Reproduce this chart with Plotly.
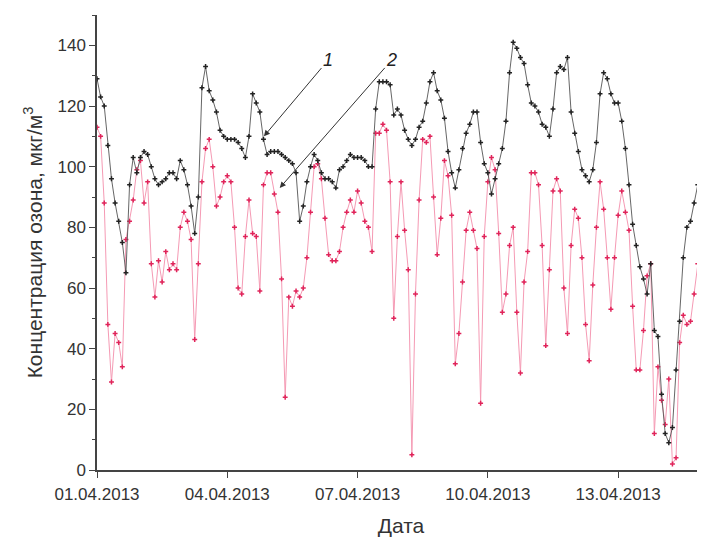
import plotly.graph_objects as go
import pandas as pd

# time axis: every 2 hours from 01.04.2013 00:00
times = pd.date_range("2013-04-01 00:00", periods=169, freq="2h")

# series 1 (black)
series1 = [
    129, 123, 120, 107, 96, 88, 82, 75, 65, 94, 103, 98,
    103, 105, 104, 100, 96, 94, 95, 96, 98, 98, 96, 102,
    99, 94, 87, 78, 90, 126, 133, 125, 122, 118, 112, 110,
    109, 109, 109, 108, 106, 103, 110, 124, 121, 118, 109, 104,
    105, 105, 105, 104, 103, 102, 101, 98, 82, 87, 95, 100,
    104, 102, 98, 96, 96, 95, 93, 99, 100, 102, 104, 103,
    103, 103, 102, 100, 100, 119, 128, 128, 128, 127, 117, 119,
    117, 112, 109, 107, 109, 113, 115, 121, 128, 131, 125, 122,
    116, 105, 98, 93, 99, 106, 111, 114, 118, 118, 108, 101,
    98, 91, 96, 101, 106, 115, 131, 141, 139, 136, 134, 127,
    121, 120, 118, 114, 113, 110, 119, 131, 133, 132, 136, 118,
    111, 105, 99, 97, 95, 99, 108, 124, 131, 129, 124, 121,
    121, 115, 106, 94, 81, 74, 67, 63, 58, 68, 46, 44,
    25, 12, 9, 14, 33, 49, 70, 80, 82, 88, 94, 90,
    86,
]

# series 2 (pink)
series2 = [
    113, 110, 88, 48, 29, 45, 42, 34, 76, 82, 89, 99,
    102, 88, 95, 68, 57, 69, 62, 72, 66, 68, 66, 80,
    85, 82, 76, 43, 68, 95, 106, 109, 100, 87, 90, 95,
    97, 95, 80, 60, 58, 77, 89, 78, 77, 59, 94, 98,
    98, 91, 85, 63, 24, 57, 54, 59, 57, 60, 70, 85,
    100, 101, 96, 83, 71, 69, 69, 72, 80, 85, 89, 85,
    92, 88, 82, 80, 72, 111, 111, 114, 112, 95, 50, 77,
    95, 79, 66, 5, 58, 89, 109, 108, 110, 90, 71, 83,
    102, 97, 84, 35, 45, 62, 79, 85, 79, 73, 22, 77,
    95, 103, 99, 78, 52, 58, 74, 80, 52, 32, 62, 72,
    98, 98, 94, 74, 41, 66, 92, 96, 92, 60, 45, 74,
    86, 83, 70, 48, 36, 61, 80, 95, 86, 70, 53, 70,
    84, 92, 85, 79, 54, 33, 33, 46, 64, 68, 12, 34,
    23, 15, 30, 2, 4, 42, 51, 48, 49, 58, 68, 77,
    83,
]

tick_dates = ["2013-04-01", "2013-04-04", "2013-04-07", "2013-04-10", "2013-04-13"]
tick_labels = ["01.04.2013", "04.04.2013", "07.04.2013", "10.04.2013", "13.04.2013"]

font_family = "Liberation Sans, Arial, sans-serif"

fig = go.Figure()
fig.add_trace(go.Scatter(
    x=times, y=series2, mode="lines+markers", name="2",
    line=dict(color="#f59ab4", width=1),
    marker=dict(symbol="cross-thin", size=3.5, color="#e0245a",
                line=dict(color="#e0245a", width=1.5)),
))
fig.add_trace(go.Scatter(
    x=times, y=series1, mode="lines+markers", name="1",
    line=dict(color="#555555", width=0.9),
    marker=dict(symbol="cross-thin", size=3.5, color="#222222",
                line=dict(color="#222222", width=1.5)),
))

fig.add_annotation(
    x=pd.Timestamp("2013-04-04 20:15"), y=110, xref="x", yref="y",
    text="<i>1</i>", showarrow=True, ax=64, ay=-76,
    arrowhead=2, arrowsize=1.2, arrowwidth=1, arrowcolor="#333333",
    font=dict(family=font_family, size=18, color="#222222"),
)
fig.add_annotation(
    x=pd.Timestamp("2013-04-05 05:00"), y=93, xref="x", yref="y",
    text="<i>2</i>", showarrow=True, ax=112, ay=-128,
    arrowhead=2, arrowsize=1.2, arrowwidth=1, arrowcolor="#333333",
    font=dict(family=font_family, size=18, color="#222222"),
)

# page body adds an 8px offset; size the figure to compensate
fig.update_layout(
    width=697, height=531,
    margin=dict(l=89, r=0, t=7, b=69, autoexpand=False),
    paper_bgcolor="white", plot_bgcolor="white",
    showlegend=False,
    font=dict(family=font_family, size=17, color="#333333"),
)
fig.update_xaxes(
    range=[pd.Timestamp("2013-04-01 00:00"), pd.Timestamp("2013-04-15 00:00")],
    tickvals=pd.to_datetime(tick_dates), ticktext=tick_labels,
    showline=True, linecolor="#444444", linewidth=1.5,
    ticks="outside", ticklen=6, tickwidth=1.3, tickcolor="#444444",
    showgrid=False, zeroline=False, automargin=False,
    ticklabelstandoff=2,
    tickfont=dict(size=17, color="#333333"),
    title=dict(text="Дата", font=dict(size=21, color="#333333"), standoff=15),
)
fig.update_yaxes(
    range=[0, 150], dtick=20, tick0=0,
    showline=True, linecolor="#444444", linewidth=1.5,
    ticks="outside", ticklen=6, tickwidth=1.3, tickcolor="#444444",
    minor=dict(dtick=10, ticks="outside", ticklen=3, tickcolor="#444444"),
    showgrid=False, zeroline=False, automargin=False,
    tickfont=dict(size=17, color="#333333"),
    title=dict(text="Концентрация озона, мкг/м<sup>3</sup>",
               font=dict(size=21, color="#333333"), standoff=9),
)

fig.write_html("out.html")
